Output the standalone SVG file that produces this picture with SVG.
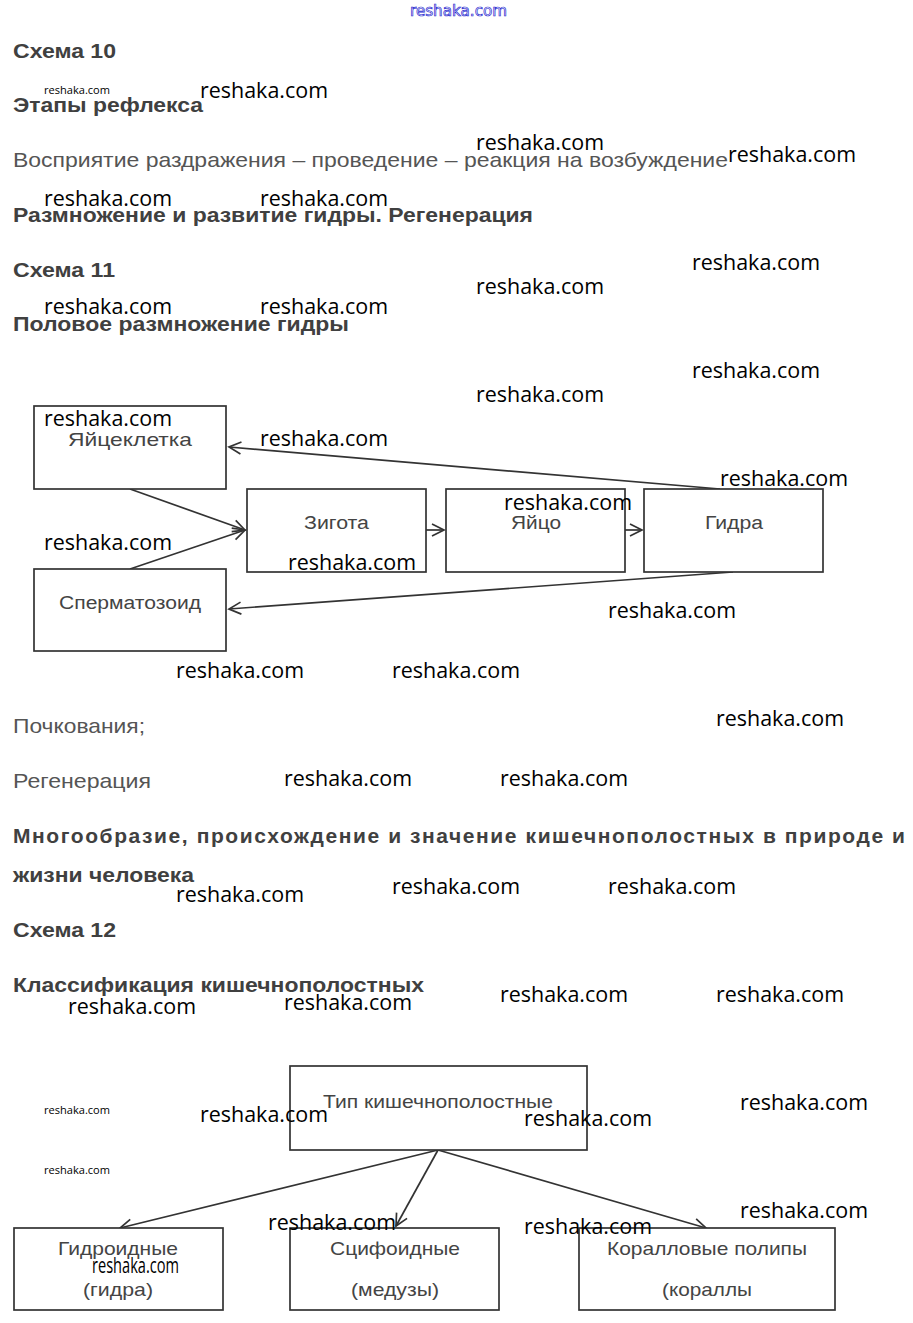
<svg xmlns="http://www.w3.org/2000/svg" width="913" height="1323" viewBox="0 0 913 1323">
<style>
.h{font-family:"Liberation Sans",Arial,sans-serif;font-weight:bold;font-size:21px;fill:#404040}
.p{font-family:"Liberation Sans",Arial,sans-serif;font-size:21px;fill:#555}
.n{font-family:"Liberation Sans",Arial,sans-serif;font-size:19px;fill:#444}
.nb{font-family:"Liberation Sans",Arial,sans-serif;font-size:18px;fill:#444}
.w{font-family:"Open Sans","Noto Sans",sans-serif;font-size:22px;fill:#000}
.ws{font-family:"Open Sans","Noto Sans",sans-serif;font-size:11px;fill:#000}
.box{fill:#fff;stroke:#333;stroke-width:1.7}
.ln{stroke:#333;stroke-width:1.7;fill:none}
</style>
<defs>
<marker id="ar" markerUnits="userSpaceOnUse" markerWidth="16" markerHeight="16" refX="14" refY="8" orient="auto">
<path d="M2,2 L14,8 L2,14" fill="none" stroke="#333" stroke-width="1.7"/>
</marker>
</defs>
<rect width="913" height="1323" fill="#fff"/>

<text x="410" y="16" font-family="'DejaVu Sans',sans-serif" font-size="15" fill="#fff" stroke="#2a2ad0" stroke-width="0.7" textLength="97" lengthAdjust="spacingAndGlyphs">reshaka.com</text>

<g id="text-top">
<text class="h" x="13" y="58" textLength="103" lengthAdjust="spacingAndGlyphs">Схема 10</text>
<text class="h" x="13" y="112" textLength="190" lengthAdjust="spacingAndGlyphs">Этапы рефлекса</text>
<text class="p" x="13" y="167" textLength="715" lengthAdjust="spacingAndGlyphs">Восприятие раздражения – проведение – реакция на возбуждение</text>
<text class="h" x="13" y="222" textLength="520" lengthAdjust="spacingAndGlyphs">Размножение и развитие гидры. Регенерация</text>
<text class="h" x="13" y="277" textLength="102" lengthAdjust="spacingAndGlyphs">Схема 11</text>
<text class="h" x="13" y="331" textLength="336" lengthAdjust="spacingAndGlyphs">Половое размножение гидры</text>
</g>

<g id="scheme11-connectors">
<line class="ln" x1="130" y1="489" x2="245" y2="530" marker-end="url(#ar)"/>
<line class="ln" x1="130" y1="569" x2="245" y2="530" marker-end="url(#ar)"/>
<line class="ln" x1="426" y1="530" x2="444" y2="530" marker-end="url(#ar)"/>
<line class="ln" x1="625" y1="530" x2="642" y2="530" marker-end="url(#ar)"/>
<line class="ln" x1="720" y1="489" x2="229" y2="447" marker-end="url(#ar)"/>
<line class="ln" x1="733" y1="572" x2="229" y2="609" marker-end="url(#ar)"/>
</g>
<g id="n-egg-cell"><rect class="box" x="34" y="406" width="192" height="83"/><text class="n" x="68" y="446" font-size="21" textLength="124" lengthAdjust="spacingAndGlyphs">Яйцеклетка</text></g>
<g id="n-zygote"><rect class="box" x="247" y="489" width="179" height="83"/><text class="nb" x="304" y="529" textLength="65" lengthAdjust="spacingAndGlyphs">Зигота</text></g>
<g id="n-egg"><rect class="box" x="446" y="489" width="179" height="83"/><text class="n" x="511" y="529" font-size="20" textLength="50" lengthAdjust="spacingAndGlyphs">Яйцо</text></g>
<g id="n-hydra"><rect class="box" x="644" y="489" width="179" height="83"/><text class="nb" x="705" y="529" textLength="58" lengthAdjust="spacingAndGlyphs">Гидра</text></g>
<g id="n-sperm"><rect class="box" x="34" y="569" width="192" height="82"/><text class="nb" x="59" y="609" textLength="142" lengthAdjust="spacingAndGlyphs">Сперматозоид</text></g>

<g id="text-mid">
<text class="p" x="13" y="733" textLength="132" lengthAdjust="spacingAndGlyphs">Почкования;</text>
<text class="p" x="13" y="788" textLength="138" lengthAdjust="spacingAndGlyphs">Регенерация</text>
<text class="h" x="13" y="843" textLength="892" lengthAdjust="spacing">Многообразие, происхождение и значение кишечнополостных в природе и</text>
<text class="h" x="13" y="882" textLength="181" lengthAdjust="spacingAndGlyphs">жизни человека</text>
<text class="h" x="13" y="937" textLength="103" lengthAdjust="spacingAndGlyphs">Схема 12</text>
<text class="h" x="13" y="992" textLength="411" lengthAdjust="spacingAndGlyphs">Классификация кишечнополостных</text>
</g>

<g id="scheme12-connectors">
<line class="ln" x1="438" y1="1150" x2="120" y2="1228" marker-end="url(#ar)"/>
<line class="ln" x1="438" y1="1150" x2="396" y2="1226" marker-end="url(#ar)"/>
<line class="ln" x1="438" y1="1150" x2="706" y2="1228" marker-end="url(#ar)"/>
</g>
<g id="n-type"><rect class="box" x="290" y="1066" width="297" height="84"/><text class="n" x="323" y="1108" textLength="230" lengthAdjust="spacingAndGlyphs">Тип кишечнополостные</text></g>
<g id="n-hydroid"><rect class="box" x="14" y="1228" width="209" height="82"/><text class="n" x="118" y="1255" text-anchor="middle" textLength="120" lengthAdjust="spacingAndGlyphs">Гидроидные</text><text class="n" x="118" y="1296" text-anchor="middle" textLength="70" lengthAdjust="spacingAndGlyphs">(гидра)</text></g>
<g id="n-scyph"><rect class="box" x="290" y="1228" width="209" height="82"/><text class="n" x="395" y="1255" text-anchor="middle" textLength="130" lengthAdjust="spacingAndGlyphs">Сцифоидные</text><text class="n" x="395" y="1296" text-anchor="middle" textLength="88" lengthAdjust="spacingAndGlyphs">(медузы)</text></g>
<g id="n-coral"><rect class="box" x="579" y="1228" width="256" height="82"/><text class="n" x="707" y="1255" text-anchor="middle" textLength="200" lengthAdjust="spacingAndGlyphs">Коралловые полипы</text><text class="n" x="707" y="1296" text-anchor="middle" textLength="90" lengthAdjust="spacingAndGlyphs">(кораллы</text></g>

<g id="watermarks">
<text class="ws" x="44" y="94" textLength="66" lengthAdjust="spacingAndGlyphs">reshaka.com</text>
<text class="w" x="200" y="98" textLength="128" lengthAdjust="spacingAndGlyphs">reshaka.com</text>
<text class="w" x="476" y="150" textLength="128" lengthAdjust="spacingAndGlyphs">reshaka.com</text>
<text class="w" x="728" y="162" textLength="128" lengthAdjust="spacingAndGlyphs">reshaka.com</text>
<text class="w" x="44" y="206" textLength="128" lengthAdjust="spacingAndGlyphs">reshaka.com</text>
<text class="w" x="260" y="206" textLength="128" lengthAdjust="spacingAndGlyphs">reshaka.com</text>
<text class="w" x="692" y="270" textLength="128" lengthAdjust="spacingAndGlyphs">reshaka.com</text>
<text class="w" x="476" y="294" textLength="128" lengthAdjust="spacingAndGlyphs">reshaka.com</text>
<text class="w" x="44" y="314" textLength="128" lengthAdjust="spacingAndGlyphs">reshaka.com</text>
<text class="w" x="260" y="314" textLength="128" lengthAdjust="spacingAndGlyphs">reshaka.com</text>
<text class="w" x="692" y="378" textLength="128" lengthAdjust="spacingAndGlyphs">reshaka.com</text>
<text class="w" x="476" y="402" textLength="128" lengthAdjust="spacingAndGlyphs">reshaka.com</text>
<text class="w" x="44" y="426" textLength="128" lengthAdjust="spacingAndGlyphs">reshaka.com</text>
<text class="w" x="260" y="446" textLength="128" lengthAdjust="spacingAndGlyphs">reshaka.com</text>
<text class="w" x="720" y="486" textLength="128" lengthAdjust="spacingAndGlyphs">reshaka.com</text>
<text class="w" x="504" y="510" textLength="128" lengthAdjust="spacingAndGlyphs">reshaka.com</text>
<text class="w" x="44" y="550" textLength="128" lengthAdjust="spacingAndGlyphs">reshaka.com</text>
<text class="w" x="288" y="570" textLength="128" lengthAdjust="spacingAndGlyphs">reshaka.com</text>
<text class="w" x="608" y="618" textLength="128" lengthAdjust="spacingAndGlyphs">reshaka.com</text>
<text class="w" x="176" y="678" textLength="128" lengthAdjust="spacingAndGlyphs">reshaka.com</text>
<text class="w" x="392" y="678" textLength="128" lengthAdjust="spacingAndGlyphs">reshaka.com</text>
<text class="w" x="716" y="726" textLength="128" lengthAdjust="spacingAndGlyphs">reshaka.com</text>
<text class="w" x="284" y="786" textLength="128" lengthAdjust="spacingAndGlyphs">reshaka.com</text>
<text class="w" x="500" y="786" textLength="128" lengthAdjust="spacingAndGlyphs">reshaka.com</text>
<text class="w" x="176" y="902" textLength="128" lengthAdjust="spacingAndGlyphs">reshaka.com</text>
<text class="w" x="392" y="894" textLength="128" lengthAdjust="spacingAndGlyphs">reshaka.com</text>
<text class="w" x="608" y="894" textLength="128" lengthAdjust="spacingAndGlyphs">reshaka.com</text>
<text class="w" x="68" y="1014" textLength="128" lengthAdjust="spacingAndGlyphs">reshaka.com</text>
<text class="w" x="284" y="1010" textLength="128" lengthAdjust="spacingAndGlyphs">reshaka.com</text>
<text class="w" x="500" y="1002" textLength="128" lengthAdjust="spacingAndGlyphs">reshaka.com</text>
<text class="w" x="716" y="1002" textLength="128" lengthAdjust="spacingAndGlyphs">reshaka.com</text>
<text class="ws" x="44" y="1114" textLength="66" lengthAdjust="spacingAndGlyphs">reshaka.com</text>
<text class="ws" x="44" y="1174" textLength="66" lengthAdjust="spacingAndGlyphs">reshaka.com</text>
<text class="w" x="200" y="1122" textLength="128" lengthAdjust="spacingAndGlyphs">reshaka.com</text>
<text class="w" x="524" y="1126" textLength="128" lengthAdjust="spacingAndGlyphs">reshaka.com</text>
<text class="w" x="740" y="1110" textLength="128" lengthAdjust="spacingAndGlyphs">reshaka.com</text>
<text class="w" x="740" y="1218" textLength="128" lengthAdjust="spacingAndGlyphs">reshaka.com</text>
<text class="w" x="268" y="1230" textLength="128" lengthAdjust="spacingAndGlyphs">reshaka.com</text>
<text class="w" x="524" y="1234" textLength="128" lengthAdjust="spacingAndGlyphs">reshaka.com</text>
<text class="w" x="92" y="1273" font-size="15" textLength="87" lengthAdjust="spacingAndGlyphs">reshaka.com</text>
</g>
</svg>
